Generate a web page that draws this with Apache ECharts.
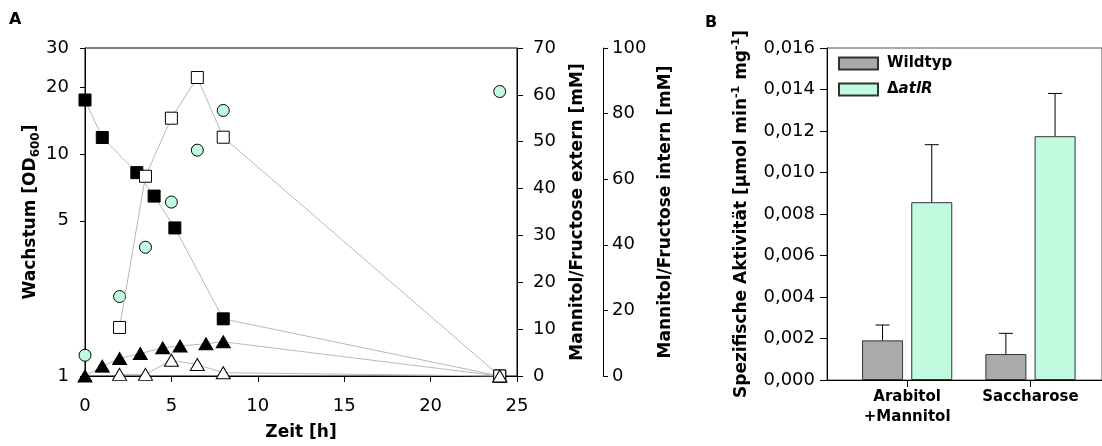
<!DOCTYPE html>
<html><head><meta charset="utf-8">
<script src="https://cdn.jsdelivr.net/npm/echarts@6/dist/echarts.min.js"></script>
<style>html,body{margin:0;padding:0;background:#fff}#c{width:1102px;height:446px}</style>
</head><body><div id="c"></div>
<script>
// ---------- Panel A data ----------
const growthTime = [0, 2, 3.5, 5, 6.5, 8, 24];
const growthOD = [1.24, 2.28, 3.8, 6.07, 10.4, 15.7, 19.1];
const extMannitolTime = [0, 1, 3, 4, 5.2, 8, 24];
const extMannitol = [58.9, 50.9, 43.4, 38.4, 31.6, 12.2, 0];
const extFructoseTime = [0, 1, 2, 3.2, 4.5, 5.5, 7, 8, 24];
const extFructose = [0, 2.1, 3.75, 4.8, 6.0, 6.4, 6.9, 7.3, 0];
const intMannitolTime = [2, 3.5, 5, 6.5, 8, 24];
const intMannitol = [14.8, 60.9, 78.6, 91.0, 72.8, 0];
const intFructoseTime = [2, 3.5, 5, 6.5, 8, 24];
const intFructose = [0.5, 0.5, 4.8, 3.5, 1.0, 0];
const odTicks = [1, 5, 10, 20, 30];
// ---------- Panel B data ----------
const conditions = ['Arabitol\n+Mannitol', 'Saccharose'];
const wildtyp = [0.00191, 0.00125];
const wildtypErr = [0.00074, 0.00100];
const atlR = [0.00857, 0.01175];
const atlRErr = [0.00277, 0.00206];

const FONT = 'DejaVu Sans';
const LINE = '#b9b9b9';
const MINT = '#c0fbe0';
const GREY = '#aaaaaa';
const BAR_W = 41, BAR_GAP = 0.2;
const half = (BAR_W + BAR_W * BAR_GAP) / 2;
const log = v => Math.log10(v);
const pairs = (xs, ys, f) => xs.map((x, i) => [x, f ? f(ys[i]) : ys[i]]);

const labelStyle = {color: '#000', fontFamily: FONT, fontSize: 18};
const nameStyleBase = {color: '#000', fontFamily: FONT, fontSize: 17, fontWeight: 'bold'};

function lineSeries(xs, ys, yIdx, symbol, fill, size) {
  return {
    type: 'line', xAxisIndex: 0, yAxisIndex: yIdx, data: pairs(xs, ys),
    symbol: symbol, symbolSize: size, showSymbol: true, clip: false,
    lineStyle: {color: LINE, width: 1},
    itemStyle: {color: fill, borderColor: '#000', borderWidth: 1}
  };
}

function errSeries(vals, errs, dir) {
  return {
    type: 'custom', xAxisIndex: 1, yAxisIndex: 3, silent: true, z: 5,
    data: vals.map((v, i) => [i + 1, v, v + errs[i]]),
    renderItem: function (params, api) {
      const b = api.coord([api.value(0), api.value(1)]);
      const t = api.coord([api.value(0), api.value(2)]);
      const cx = b[0] + dir * half;
      return {type: 'group', children: [
        {type: 'line', shape: {x1: cx, y1: b[1], x2: cx, y2: t[1]}, style: {stroke: '#000', lineWidth: 1}},
        {type: 'line', shape: {x1: cx - 7, y1: t[1], x2: cx + 7, y2: t[1]}, style: {stroke: '#000', lineWidth: 1}}
      ]};
    }
  };
}

const chart = echarts.init(document.getElementById('c'), null, {renderer: 'canvas'});
chart.setOption({
  animation: false,
  backgroundColor: '#fff',
  textStyle: {fontFamily: FONT},
  graphic: [
    {type: 'text', left: 9, top: 12, style: {text: 'A', font: 'bold 16px "DejaVu Sans"', fill: '#000'}},
    {type: 'text', left: 705, top: 15, style: {text: 'B', font: 'bold 16px "DejaVu Sans"', fill: '#000'}}
  ],
  grid: [
    {left: 85, top: 48, right: 585, bottom: 68, show: true, borderColor: '#000', borderWidth: 1},
    {left: 827, top: 48, right: -5, bottom: 66, show: true, borderColor: '#555', borderWidth: 1}
  ],
  legend: {
    data: ['Wildtyp', 'ΔatlR'], orient: 'vertical', left: 833, top: 51,
    itemWidth: 39, itemHeight: 12, itemGap: 11, icon: 'rect',
    formatter: n => n === 'Wildtyp' ? '{b|Wildtyp}' : '{b|Δ}{bi|atlR}',
    textStyle: {padding: [0, 0, 0, 4], rich: {
      b: {fontFamily: FONT, fontSize: 15, fontWeight: 'bold', color: '#000'},
      bi: {fontFamily: FONT, fontSize: 15, fontWeight: 'bold', fontStyle: 'italic', color: '#000'}
    }}
  },
  xAxis: [
    {gridIndex: 0, type: 'value', min: 0, max: 25, interval: 5,
     name: 'Zeit [h]', nameLocation: 'middle', nameGap: 48, nameTextStyle: nameStyleBase,
     axisLine: {lineStyle: {color: '#000'}}, axisTick: {length: 6, lineStyle: {color: '#000'}},
     axisLabel: Object.assign({margin: 21}, labelStyle), splitLine: {show: false}},
    {gridIndex: 1, type: 'value', min: 0.35, max: 2.58,
     axisLine: {onZero: false, lineStyle: {color: '#000'}},
     axisTick: {length: 7, customValues: [1, 2], lineStyle: {color: '#000'}},
     axisLabel: {customValues: [1, 2], margin: 7, formatter: v => conditions[Math.round(v) - 1] || '',
       color: '#000', fontFamily: FONT, fontSize: 15, fontWeight: 'bold', lineHeight: 20},
     splitLine: {show: false}}
  ],
  yAxis: [
    {gridIndex: 0, type: 'value', min: 0, max: log(30),
     name: 'Wachstum [OD{s|600}]', nameLocation: 'middle', nameRotate: 90, nameGap: 43,
     nameTextStyle: Object.assign({}, nameStyleBase, {rich: {
       s: {fontFamily: FONT, fontSize: 12, fontWeight: 'bold', color: '#000', verticalAlign: 'bottom', lineHeight: 12}
     }, lineHeight: 22}),
     axisLine: {lineStyle: {color: '#000'}},
     axisTick: {length: 5, customValues: odTicks.map(log), lineStyle: {color: '#000'}},
     axisLabel: Object.assign({margin: 16, customValues: odTicks.map(log),
       formatter: v => String(Math.round(Math.pow(10, v)))}, labelStyle),
     splitLine: {show: false}},
    {gridIndex: 0, type: 'value', position: 'right', min: 0, max: 70, interval: 10,
     name: 'Mannitol/Fructose extern [mM]', nameLocation: 'middle', nameRotate: 90, nameGap: 52,
     nameTextStyle: nameStyleBase,
     axisLine: {show: true, lineStyle: {color: '#000'}}, axisTick: {show: true, length: 6, lineStyle: {color: '#000'}},
     axisLabel: Object.assign({margin: 16}, labelStyle), splitLine: {show: false}},
    {gridIndex: 0, type: 'value', position: 'right', offset: 86, min: 0, max: 100, interval: 20,
     name: 'Mannitol/Fructose intern [mM]', nameLocation: 'middle', nameRotate: 90, nameGap: 54,
     nameTextStyle: nameStyleBase,
     axisLine: {show: true, lineStyle: {color: '#000'}}, axisTick: {show: true, length: 5, lineStyle: {color: '#000'}},
     axisLabel: Object.assign({margin: 9}, labelStyle), splitLine: {show: false}},
    {gridIndex: 1, type: 'value', min: 0, max: 0.016, interval: 0.002,
     name: 'Spezifische Aktivität [µmol min{u|-1} mg{u|-1}]', nameLocation: 'middle', nameRotate: 90, nameGap: 74,
     nameTextStyle: Object.assign({}, nameStyleBase, {rich: {
       u: {fontFamily: FONT, fontSize: 11, fontWeight: 'bold', color: '#000', verticalAlign: 'top', lineHeight: 11}
     }, lineHeight: 22}),
     axisLine: {show: true, lineStyle: {color: '#000'}}, axisTick: {length: 7, lineStyle: {color: '#000'}},
     axisLabel: Object.assign({margin: 12, formatter: v => v.toFixed(3).replace('.', ',')}, labelStyle),
     splitLine: {show: false}}
  ],
  series: [
    lineSeries(extMannitolTime, extMannitol, 1, 'rect', '#000', 12),
    lineSeries(extFructoseTime, extFructose, 1, 'triangle', '#000', [14, 12]),
    lineSeries(intMannitolTime, intMannitol, 2, 'rect', '#fff', 12),
    lineSeries(intFructoseTime, intFructose, 2, 'triangle', '#fff', [14, 12]),
    {type: 'scatter', xAxisIndex: 0, yAxisIndex: 0, data: pairs(growthTime, growthOD, log),
     symbol: 'circle', symbolSize: 12, clip: false,
     itemStyle: {color: MINT, borderColor: '#000', borderWidth: 1, opacity: 1}},
    {type: 'bar', name: 'Wildtyp', xAxisIndex: 1, yAxisIndex: 3, data: wildtyp.map((v, i) => [i + 1, v]),
     barWidth: BAR_W, barGap: (BAR_GAP * 100) + '%', itemStyle: {color: GREY, borderColor: '#333', borderWidth: 1}},
    {type: 'bar', name: 'ΔatlR', xAxisIndex: 1, yAxisIndex: 3, data: atlR.map((v, i) => [i + 1, v]),
     barWidth: BAR_W, barGap: (BAR_GAP * 100) + '%', itemStyle: {color: MINT, borderColor: '#333', borderWidth: 1}},
    errSeries(wildtyp, wildtypErr, -1),
    errSeries(atlR, atlRErr, 1)
  ]
});
</script></body></html>
